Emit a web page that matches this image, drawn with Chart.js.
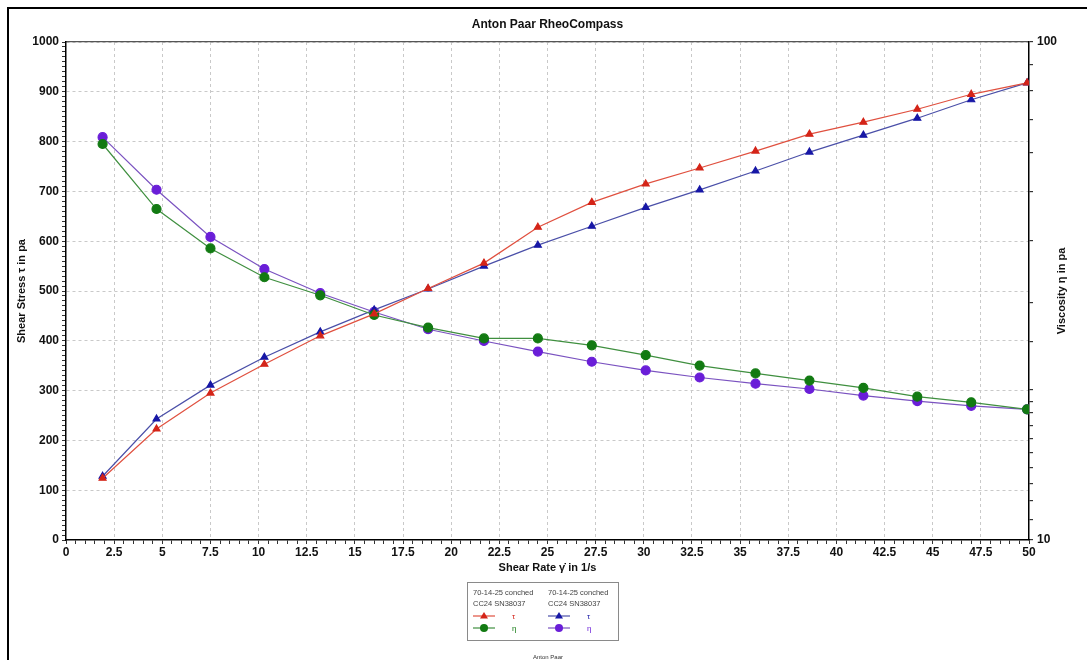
<!DOCTYPE html>
<html>
<head>
<meta charset="utf-8">
<script src="https://cdn.jsdelivr.net/npm/chart.js@4.4.1/dist/chart.umd.min.js"></script>
<style>
html, body { margin: 0; padding: 0; background: #fff; }
#wrap { position: relative; width: 1087px; height: 660px; }
</style>
</head>
<body>
<div id="wrap"><canvas id="rheo" width="1087" height="660"></canvas></div>
<script>
// shear rate in 1/s
const shearRate = [1.9, 4.7, 7.5, 10.3, 13.2, 16.0, 18.8, 21.7, 24.5, 27.3, 30.1, 32.9, 35.8, 38.6, 41.4, 44.2, 47.0, 49.9];
// shear stress tau in pa (left axis)
const stressRed = [124, 223, 295, 353, 410, 454, 505, 556, 628, 678, 715, 747, 781, 815, 839, 865, 895, 918];
const stressBlue = [128, 243, 311, 367, 418, 462, 504, 550, 592, 630, 668, 703, 741, 779, 813, 847, 884, 918];
// viscosity eta (right log axis)
const viscGreen = [62.4, 46.2, 38.5, 33.7, 31.0, 28.3, 26.7, 25.4, 25.4, 24.6, 23.5, 22.4, 21.6, 20.9, 20.2, 19.4, 18.9, 18.3];
const viscPurple = [64.4, 50.5, 40.6, 35.0, 31.3, 28.7, 26.5, 25.1, 23.9, 22.8, 21.9, 21.2, 20.6, 20.1, 19.5, 19.0, 18.6, 18.3];

const sampleName = ['70-14-25 conched', 'CC24 SN38037'];
const FONT = '"Liberation Sans", Arial, sans-serif';

Chart.defaults.font.family = FONT;
Chart.defaults.color = '#111';

function pts(ys) {
    return shearRate.map((x, i) => ({ x: x, y: ys[i] }));
}

function isStep(v, step) {
    return Math.abs(v / step - Math.round(v / step)) < 1e-6;
}

const gridGray = '#c9c9c9';

// frame, title, right-axis title and the small legend box
const extras = {
    id: 'extras',
    afterDraw(chart) {
        const ctx = chart.ctx;
        const area = chart.chartArea;
        ctx.save();

        ctx.strokeStyle = '#000';
        ctx.lineWidth = 2;
        ctx.strokeRect(8, 8, 1200, 800);

        ctx.fillStyle = '#111';
        ctx.font = 'bold 12px ' + FONT;
        ctx.textAlign = 'center';
        ctx.textBaseline = 'middle';
        ctx.fillText('Anton Paar RheoCompass', (area.left + area.right) / 2, 25);

        ctx.save();
        ctx.translate(1062, (area.top + area.bottom) / 2);
        ctx.rotate(-Math.PI / 2);
        ctx.font = 'bold 11px ' + FONT;
        ctx.fillText('Viscosity \u03b7 in pa', 0, 0);
        ctx.restore();

        // legend box
        const bx = 467, by = 582, bw = 151, bh = 58;
        ctx.strokeStyle = '#8a8a8a';
        ctx.lineWidth = 1;
        ctx.strokeRect(bx + 0.5, by + 0.5, bw, bh);

        const ds = chart.data.datasets;
        const cols = [[0, 1], [2, 3]];
        cols.forEach((idx, c) => {
            const x0 = bx + 6 + c * 75;
            ctx.fillStyle = '#444';
            ctx.font = '7.5px ' + FONT;
            ctx.textAlign = 'left';
            ctx.fillText(sampleName[0], x0, by + 11);
            ctx.fillText(sampleName[1], x0, by + 22);
            idx.forEach((d, r) => {
                const set = ds[d];
                const y = by + 34 + r * 12;
                ctx.strokeStyle = set.borderColor;
                ctx.lineWidth = 1.2;
                ctx.beginPath();
                ctx.moveTo(x0, y);
                ctx.lineTo(x0 + 22, y);
                ctx.stroke();
                ctx.fillStyle = set.pointBackgroundColor;
                ctx.beginPath();
                if (set.pointStyle === 'triangle') {
                    ctx.moveTo(x0 + 11, y - 4);
                    ctx.lineTo(x0 + 15, y + 2.5);
                    ctx.lineTo(x0 + 7, y + 2.5);
                    ctx.closePath();
                } else {
                    ctx.arc(x0 + 11, y, 4, 0, Math.PI * 2);
                }
                ctx.fill();
                ctx.fillStyle = set.pointBackgroundColor;
                ctx.font = '8px ' + FONT;
                ctx.fillText(set.yAxisID === 'y' ? '\u03c4' : '\u03b7', x0 + 39, y + 1);
            });
        });

        ctx.fillStyle = '#333';
        ctx.font = '6px ' + FONT;
        ctx.textAlign = 'center';
        ctx.fillText('Anton Paar', 548, 657);
        ctx.restore();
    }
};

const ctx = document.getElementById('rheo').getContext('2d');

new Chart(ctx, {
    type: 'line',
    data: {
        datasets: [
            {
                label: 'τ',
                data: pts(stressRed),
                yAxisID: 'y',
                borderColor: '#e0503f',
                pointBackgroundColor: '#d42418',
                pointBorderColor: '#d42418',
                pointStyle: 'triangle',
                pointRadius: 4,
                borderWidth: 1.2
            },
            {
                label: 'η',
                data: pts(viscGreen),
                yAxisID: 'y2',
                borderColor: '#3f8f3f',
                pointBackgroundColor: '#127a12',
                pointBorderColor: '#127a12',
                pointStyle: 'circle',
                pointRadius: 4.5,
                borderWidth: 1.2
            },
            {
                label: 'τ',
                data: pts(stressBlue),
                yAxisID: 'y',
                borderColor: '#4a4fa8',
                pointBackgroundColor: '#1717a6',
                pointBorderColor: '#1717a6',
                pointStyle: 'triangle',
                pointRadius: 4,
                borderWidth: 1.2
            },
            {
                label: 'η',
                data: pts(viscPurple),
                yAxisID: 'y2',
                borderColor: '#7a52c0',
                pointBackgroundColor: '#6a1ed8',
                pointBorderColor: '#6a1ed8',
                pointStyle: 'circle',
                pointRadius: 4.5,
                borderWidth: 1.2
            }
        ]
    },
    options: {
        responsive: false,
        animation: false,
        layout: { padding: { left: 10, right: 0, top: 42, bottom: 80 } },
        plugins: {
            legend: { display: false },
            tooltip: { enabled: false }
        },
        scales: {
            x: {
                type: 'linear',
                position: 'bottom',
                min: 0,
                max: 50,
                afterFit: s => { s.height = 40; },
                ticks: {
                    stepSize: 0.5,
                    maxTicksLimit: 200,
                    autoSkip: false,
                    maxRotation: 0,
                    padding: 1,
                    font: { size: 12, weight: 'bold' },
                    callback: v => isStep(v, 2.5) ? String(v) : ''
                },
                grid: {
                    color: c => (c.tick && isStep(c.tick.value, 2.5) && c.tick.value > 0 && c.tick.value < 50) ? gridGray : 'rgba(0,0,0,0)',
                    tickColor: '#333',
                    tickLength: 4,
                    lineWidth: 1
                },
                border: { color: '#000', width: 1.5, dash: [3, 3] },
                title: {
                    display: true,
                    text: 'Shear Rate \u03b3\u0307 in 1/s',
                    font: { size: 11, weight: 'bold' },
                    padding: { top: 0, bottom: 5 }
                }
            },
            y: {
                position: 'left',
                min: 0,
                max: 1000,
                afterFit: s => { s.width = 56; },
                ticks: {
                    stepSize: 10,
                    maxTicksLimit: 200,
                    autoSkip: false,
                    padding: 3,
                    font: { size: 12, weight: 'bold' },
                    callback: v => isStep(v, 100) ? String(v) : ''
                },
                grid: {
                    color: c => (c.tick && isStep(c.tick.value, 100) && c.tick.value > 0) ? gridGray : 'rgba(0,0,0,0)',
                    tickColor: '#333',
                    tickLength: 4,
                    lineWidth: 1
                },
                border: { color: '#000', width: 1.5, dash: [3, 3] },
                title: {
                    display: true,
                    text: 'Shear Stress \u03c4 in pa',
                    font: { size: 11, weight: 'bold' },
                    padding: { top: 5, bottom: 0 }
                }
            },
            y2: {
                type: 'logarithmic',
                position: 'right',
                min: 10,
                max: 100,
                afterFit: s => { s.width = 58; },
                ticks: {
                    autoSkip: false,
                    padding: 4,
                    font: { size: 12, weight: 'bold' },
                    callback: v => (v === 10 || v === 100) ? String(v) : ''
                },
                grid: {
                    color: c => (c.tick && c.tick.value === 100) ? '#555' : 'rgba(0,0,0,0)',
                    tickColor: '#333',
                    tickLength: 4,
                    lineWidth: 1.2
                },
                border: { color: '#000', width: 1.5 }
            }
        }
    },
    plugins: [extras]
});
</script>
</body>
</html>
